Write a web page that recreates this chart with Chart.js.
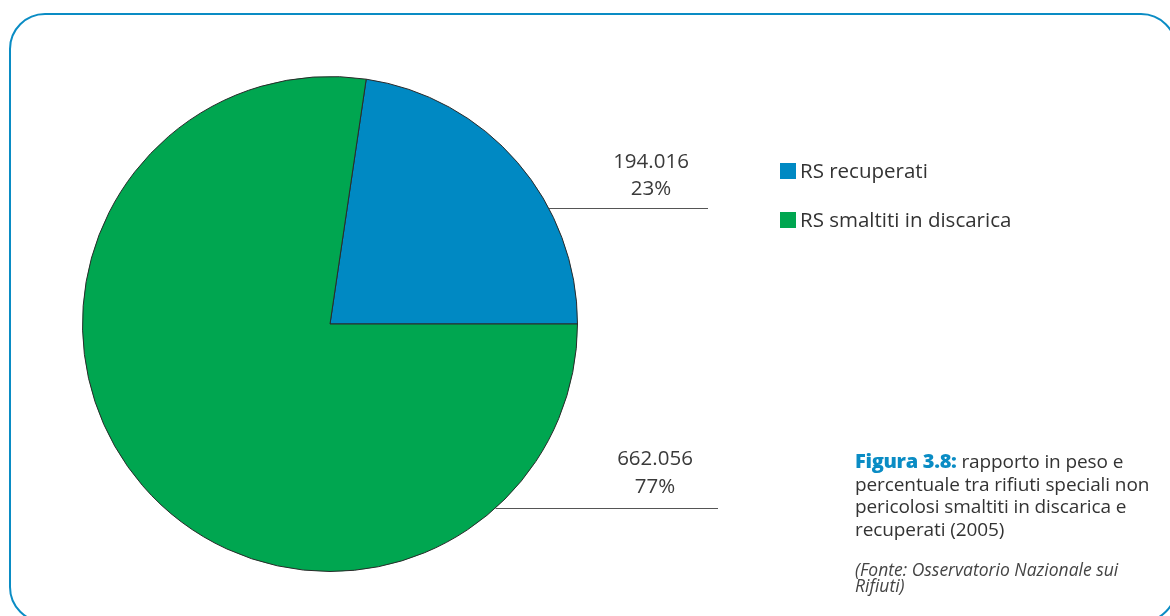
<!DOCTYPE html>
<html>
<head>
<meta charset="utf-8">
<script src="https://cdn.jsdelivr.net/npm/chart.js@4"></script>
<style>
  html, body { margin: 0; padding: 0; background: #fff; overflow: hidden; }
  #wrap { position: relative; width: 1170px; height: 616px; overflow: hidden; }
  #frame { position: absolute; left: 9px; top: 13px; width: 1168px; height: 610px;
           border: 2.5px solid #0a8cc4; border-radius: 36px; box-sizing: border-box; }
  #c { position: absolute; left: 0; top: 0; }
  .cap { position: absolute; left: 855px; top: 450px; font-family: "Open Sans", sans-serif;
         font-size: 19px; line-height: 22.5px; color: #333; white-space: nowrap; letter-spacing: -0.1px; }
  .cap b { color: #0a8cc4; font-weight: 800; letter-spacing: -0.3px; font-size: 20px; }
  .src { position: absolute; left: 855px; top: 561px; font-family: "Open Sans", sans-serif;
         font-style: italic; font-size: 17.5px; line-height: 16px; color: #444; white-space: nowrap; }
</style>
</head>
<body>
<div id="wrap">
  <div id="frame"></div>
  <canvas id="c" width="1170" height="616"></canvas>
  <div class="cap"><b>Figura 3.8:</b> rapporto in peso e<br>percentuale tra rifiuti speciali non<br>pericolosi smaltiti in discarica e<br>recuperati (2005)</div>
  <div class="src">(Fonte: Osservatorio Nazionale sui<br>Rifiuti)</div>
</div>
<script>
const categories = ["RS recuperati", "RS smaltiti in discarica"];
const values = [194016, 662056];
const valueLabels = ["194.016", "662.056"];
const percentLabels = ["23%", "77%"];
const colors = ["#0089c3", "#00a650"];

const total = values.reduce((a, b) => a + b, 0);
const startRotation = 90 - 360 * values[0] / total;

// label placement (style): leader-line y, line end x, text center x
const labelStyle = [
  { lineY: 208, endX: 708, textX: 651, y1: 168, y2: 195 },
  { lineY: 508, endX: 718, textX: 655, y1: 465, y2: 493 }
];

const labelsPlugin = {
  id: 'leaderLabels',
  afterDatasetsDraw(chart) {
    const ctx = chart.ctx;
    const arc = chart.getDatasetMeta(0).data[0];
    const cx = arc.x, cy = arc.y, r = arc.outerRadius;
    ctx.save();
    labelStyle.forEach((s, i) => {
      const dy = s.lineY - cy;
      const startX = cx + Math.sqrt(Math.max(0, r * r - dy * dy));
      ctx.strokeStyle = '#555';
      ctx.lineWidth = 1;
      ctx.beginPath();
      ctx.moveTo(startX, s.lineY + 0.5);
      ctx.lineTo(s.endX, s.lineY + 0.5);
      ctx.stroke();
      ctx.fillStyle = '#3a3a3a';
      ctx.font = '20.5px "Open Sans", sans-serif';
      ctx.textAlign = 'center';
      ctx.textBaseline = 'alphabetic';
      ctx.fillText(valueLabels[i], s.textX, s.y1);
      ctx.fillText(percentLabels[i], s.textX, s.y2);
    });
    // legend
    ctx.textAlign = 'left';
    ctx.font = '20.5px "Open Sans", sans-serif';
    categories.forEach((name, i) => {
      const y = 163 + i * 49;
      ctx.fillStyle = colors[i];
      ctx.fillRect(780, y, 16, 16);
      ctx.fillStyle = '#333';
      ctx.fillText(name, 800, y + 15);
    });
    ctx.restore();
  }
};

new Chart(document.getElementById('c'), {
  type: 'pie',
  data: {
    labels: categories,
    datasets: [{
      data: values,
      backgroundColor: colors,
      borderColor: '#2a2a2a',
      borderWidth: 1
    }]
  },
  options: {
    responsive: false,
    animation: false,
    rotation: startRotation,
    layout: { padding: { left: 82, right: 592, top: 76, bottom: 44 } },
    plugins: { legend: { display: false }, tooltip: { enabled: false } }
  },
  plugins: [labelsPlugin]
});
</script>
</body>
</html>
